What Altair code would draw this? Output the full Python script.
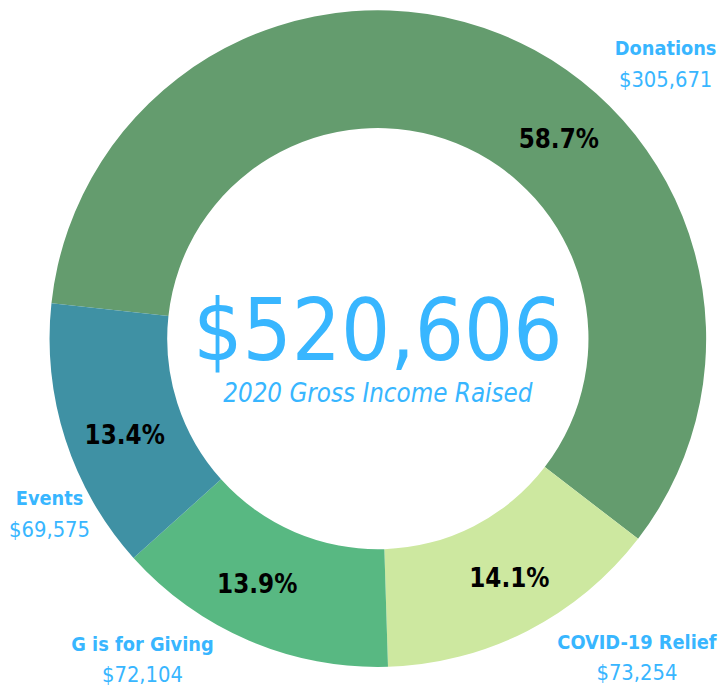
import math
import altair as alt
import pandas as pd

# ---- data ----
categories = ["Donations", "COVID-19 Relief", "G is for Giving", "Events"]
amounts = [305671, 73254, 72104, 69575]
order_idx = [0, 1, 2, 3]
amount_labels = ["$305,671", "$73,254", "$72,104", "$69,575"]
total_label = "$520,606"
subtitle = "2020 Gross Income Raised"

colors = ["#649C6E", "#CDE8A0", "#58B882", "#3F91A4"]
BLUE = "#38B6FF"
FONT = "DejaVu Sans Condensed, sans-serif"

total = sum(amounts)
pct = [f"{a / total * 100:.1f}%" for a in amounts]

df = pd.DataFrame({"category": categories, "value": amounts, "idx": order_idx, "pct": pct})

CX, CY = 374, 330.5
R_OUT, R_IN = 332, 213
start = math.radians(276.2)

theta = alt.Theta("value:Q", stack=True,
                  scale=alt.Scale(range=[start, start + 2 * math.pi]))

arcs = alt.Chart(df).mark_arc(radius=R_OUT, radius2=R_IN, stroke=None).encode(
    theta=theta,
    order=alt.Order("idx:Q"),
    color=alt.Color("category:N", scale=alt.Scale(domain=categories, range=colors), legend=None),
    x=alt.value(CX), y=alt.value(CY),
)

layers = [arcs]

# percentage labels (annotation positions, chart pixels)
pct_pos = {
    "Donations": (557, 138),
    "COVID-19 Relief": (507, 582),
    "G is for Giving": (252, 588),
    "Events": (118, 437),
}
for cat, p in zip(categories, pct):
    px, py = pct_pos[cat]
    d = pd.DataFrame({"pct": [p]})
    layers.append(alt.Chart(d).mark_text(font=FONT, fontSize=26, fontWeight="bold", color="black",
                                         baseline="alphabetic", align="center").encode(
        text="pct:N", x=alt.value(px), y=alt.value(py)))

# category labels
label_pos = {
    "Donations": (665, 44),
    "COVID-19 Relief": (636, 644),
    "G is for Giving": (136, 646),
    "Events": (42, 499),
}
for cat, amt in zip(categories, amount_labels):
    lx, ly = label_pos[cat]
    d = pd.DataFrame({"name": [cat], "amt": [amt]})
    c = alt.Chart(d)
    layers.append(c.mark_text(font=FONT, fontSize=20, fontWeight="bold", color=BLUE,
                              align="center", baseline="alphabetic").encode(
        text="name:N", x=alt.value(lx), y=alt.value(ly)))
    layers.append(c.mark_text(font=FONT, fontSize=22, color=BLUE,
                              align="center", baseline="alphabetic").encode(
        text="amt:N", x=alt.value(lx), y=alt.value(ly + 32)))

center_df = pd.DataFrame({"t": [total_label], "s": [subtitle]})
cc = alt.Chart(center_df)
layers.append(cc.mark_text(font=FONT, fontSize=87, color=BLUE, align="center",
                           baseline="alphabetic").encode(
    text="t:N", x=alt.value(CX), y=alt.value(352)))
layers.append(cc.mark_text(font=FONT, fontSize=26, fontStyle="italic", color=BLUE,
                           align="center", baseline="alphabetic").encode(
    text="s:N", x=alt.value(CX), y=alt.value(395)))

chart = alt.layer(*layers).properties(
    width=719, height=686, autosize=alt.AutoSizeParams(type="none"), padding=0
).configure_view(stroke=None)

chart.save("out.html", embed_options={"renderer": "svg", "actions": False})
